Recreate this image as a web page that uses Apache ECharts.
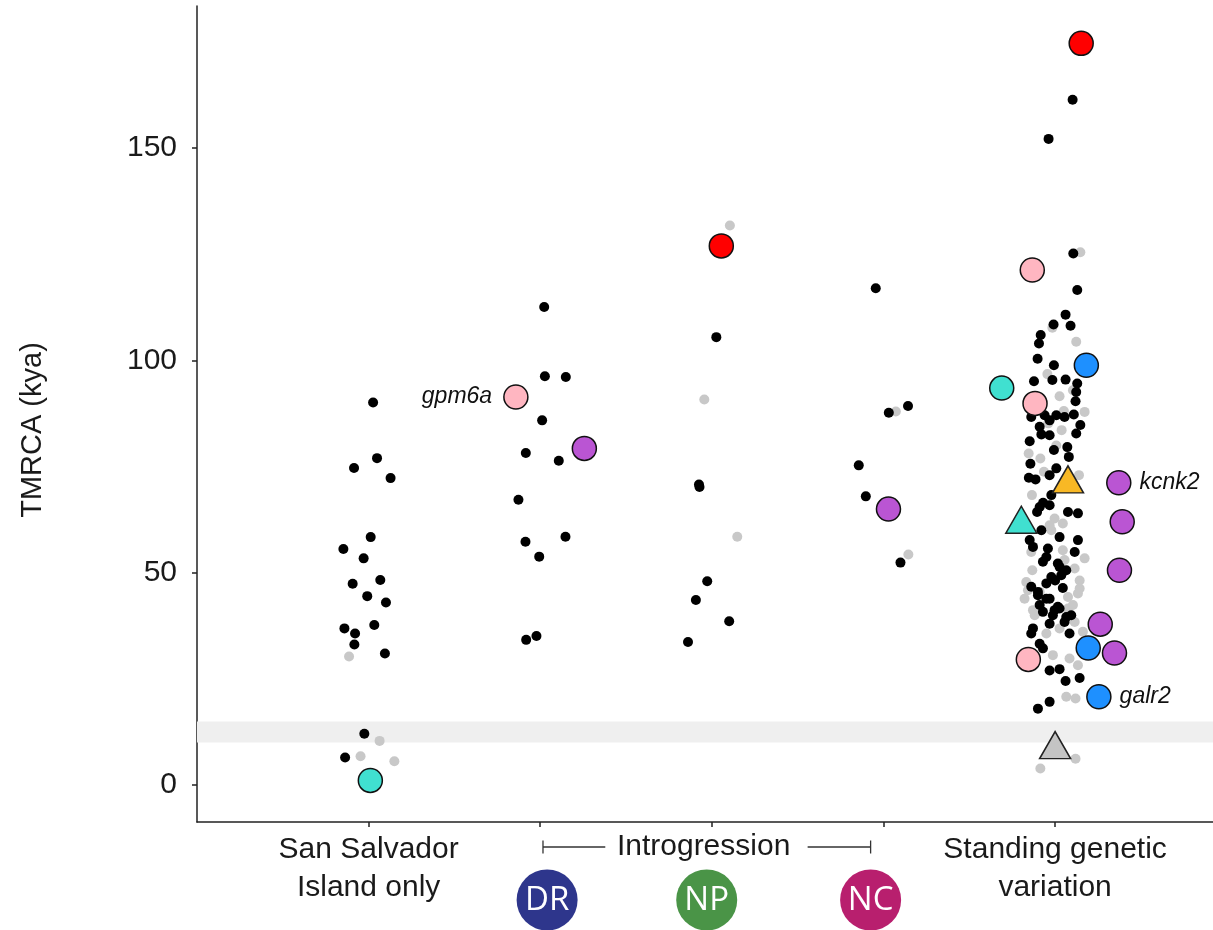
<!DOCTYPE html>
<html><head><meta charset="utf-8">
<script src="https://cdn.jsdelivr.net/npm/echarts@6/dist/echarts.min.js"></script>
<style>html,body{margin:0;padding:0;background:#fff}#c{width:1213px;height:930px}</style>
</head><body><div id="c"></div>
<script>
// ---- data (x = category index + jitter offset, y = TMRCA in kya) ----
const categories = ['San Salvador\nIsland only', 'DR', 'NP', 'NC', 'Standing genetic\nvariation'];
const yTicks = [0, 50, 100, 150];
const xTicks = [1, 2, 3, 4, 5];
const bandRange = [10, 15];

const ssiBlack = [[0.026,90.1],[0.049,77.0],[-0.085,74.7],[0.128,72.3],[0.012,58.4],[-0.147,55.6],[-0.029,53.4],[-0.093,47.4],[0.068,48.3],[-0.008,44.5],[0.101,43.0],[-0.141,36.9],[0.033,37.7],[-0.079,35.7],[-0.083,33.1],[0.095,31.0],[-0.025,12.1],[-0.137,6.5]];
const ssiGray = [[-0.114,30.3],[0.064,10.4],[-0.047,6.8],[0.150,5.6]];

const drBlack = [[0.023,112.6],[0.027,96.3],[0.149,96.1],[0.011,85.9],[-0.084,78.2],[0.108,76.4],[-0.127,67.2],[-0.086,57.3],[0.147,58.5],[-0.006,53.8],[-0.082,34.2],[-0.022,35.1]];
const drGray = [];

const npBlack = [[0.026,105.5],[-0.075,70.8],[-0.072,70.2],[-0.027,48.0],[-0.093,43.6],[0.101,38.6],[-0.139,33.7]];
const npGray = [[0.105,131.8],[-0.044,90.8],[0.148,58.5]];

const ncBlack = [[-0.045,117.0],[0.143,89.3],[0.031,87.7],[-0.144,75.3],[-0.103,68.0],[0.099,52.4]];
const ncGray = [[0.072,88.0],[0.145,54.3]];

const sgvBlack = [[0.102,161.4],[-0.038,152.2],[0.106,125.2],[0.129,116.6],[0.061,110.8],[-0.009,108.5],[0.090,108.2],[-0.084,106.0],[-0.094,104.0],[-0.102,100.4],[-0.007,98.9],[-0.123,95.1],[-0.016,95.4],[0.061,95.5],[0.129,94.6],[0.123,92.6],[0.119,90.4],[0.109,87.3],[-0.139,86.7],[-0.061,87.1],[0.007,87.1],[0.055,86.7],[-0.032,85.9],[0.147,84.8],[-0.090,84.4],[0.123,82.8],[-0.080,82.6],[-0.032,82.4],[-0.148,81.0],[0.071,79.6],[-0.007,78.9],[0.080,77.3],[-0.144,75.7],[0.007,74.6],[-0.153,72.4],[-0.114,72.0],[-0.032,73.0],
  [-0.022,68.3],[-0.090,65.5],[-0.032,65.9],[0.075,64.3],[0.133,64.0],[-0.080,60.0],[0.026,58.4],[0.133,57.7],[-0.148,57.7],[-0.129,56.1],[-0.042,55.7],[0.114,54.9],[-0.051,53.7],[-0.071,52.6],[0.026,51.4],[0.065,50.6],[-0.022,49.0],[0.000,48.2],[-0.139,46.7],[0.045,46.4],[-0.100,44.7],[-0.051,43.9],[-0.090,42.4],[0.016,42.0],[-0.071,40.8],[-0.013,40.0],[0.065,39.6],[0.094,40.0],[-0.032,38.0],[0.055,38.4],[-0.129,36.9],[-0.139,35.7],[0.084,35.7],[-0.090,33.3],[-0.071,32.2],[-0.032,27.0],[0.026,27.3],[0.061,24.5],[0.143,25.2],[-0.032,19.6],[-0.100,18.0],
  [0.016,52.2],[0.036,49.4],[-0.051,47.5],[-0.100,45.5],[-0.032,43.9],[-0.003,41.2],[0.026,41.6],[-0.105,64.3],[-0.070,66.5]];
const sgvGray = [[0.147,125.5],[-0.016,107.7],[0.123,104.4],[-0.045,96.8],[0.104,93.0],[0.026,91.6],[0.172,87.9],[0.051,88.1],[-0.040,85.2],[0.038,83.6],[0.007,80.0],[-0.154,78.1],[-0.086,76.9],[-0.065,73.8],[0.139,73.0],[-0.135,68.3],[-0.003,62.8],[0.045,61.6],[-0.022,60.0],[-0.139,54.9],[0.172,53.4],[0.055,53.0],[-0.133,50.6],[0.114,51.0],[0.143,48.2],[-0.168,47.8],[-0.090,45.5],[-0.178,43.9],[0.133,45.1],[0.075,41.6],[-0.119,40.0],[0.114,38.4],[0.026,36.9],[-0.051,35.7],[0.162,36.1],[-0.013,30.6],[0.084,29.8],[0.133,28.2],[0.065,20.8],[0.119,20.4],[0.119,6.2],[-0.086,3.9],
  [0.045,55.3],[-0.158,45.9],[0.143,46.3],[0.075,44.3],[0.104,42.4],[-0.129,41.2],[-0.032,61.2]];

// highlighted genes: [category index, jitter offset, kya, group, label]
const highlightCircles = [
  [1, 0.010, 1.1, 'turquoise', ''],
  [2, -0.142, 91.4, 'pink', 'gpm6a'],
  [2, 0.257, 79.3, 'purple', ''],
  [3, 0.055, 127.0, 'red', ''],
  [4, 0.029, 65.0, 'purple', ''],
  [5, 0.152, 174.7, 'red', ''],
  [5, -0.133, 121.3, 'pink', ''],
  [5, 0.182, 98.9, 'blue', ''],
  [5, -0.311, 93.5, 'turquoise', ''],
  [5, -0.117, 89.9, 'pink', ''],
  [5, 0.371, 71.2, 'purple', 'kcnk2'],
  [5, 0.391, 62.0, 'purple', ''],
  [5, 0.375, 50.6, 'purple', ''],
  [5, 0.263, 37.9, 'purple', ''],
  [5, 0.193, 32.3, 'blue', ''],
  [5, 0.346, 31.1, 'purple', ''],
  [5, -0.156, 29.6, 'pink', ''],
  [5, 0.255, 20.8, 'blue', 'galr2']
];
const highlightTriangles = [
  [5, 0.075, 72.0, 'orange'],
  [5, -0.197, 62.5, 'turquoise'],
  [5, 0.000, 9.4, 'gray']
];
const introgressionBadges = [['DR', 2.04], ['NP', 2.97], ['NC', 3.925]];

// ---- styles ----
const palette = {turquoise:'#40E0D0', pink:'#FFB6C1', purple:'#BA55D3', red:'#FF0000', blue:'#1E90FF', orange:'#F8B825', gray:'#C4C4C4'};
const badgeColors = {DR:'#2E368C', NP:'#4A9447', NC:'#B81F6E'};
const FONT = '"Liberation Sans", Arial, Helvetica, sans-serif';
const TXT = '#1a1a1a';

function place(cat, arr) { return arr.map(([o, v]) => [cat + o, v]); }
const grayPts = [].concat(place(1, ssiGray), place(2, drGray), place(3, npGray), place(4, ncGray), place(5, sgvGray));
const blackPts = [].concat(place(1, ssiBlack), place(2, drBlack), place(3, npBlack), place(4, ncBlack), place(5, sgvBlack));

const circleData = highlightCircles.map(([c, o, v, g, lab]) => {
  const d = {value: [c + o, v], itemStyle: {color: palette[g]}};
  if (lab) {
    d.label = {show: true, formatter: lab, position: lab === 'gpm6a' ? 'left' : 'right', distance: lab === 'gpm6a' ? 11 : 8,
      fontStyle: 'italic', fontSize: 23, color: '#111', fontFamily: FONT};
  }
  return d;
});
const triData = highlightTriangles.map(([c, o, v, g]) => ({value: [c + o, v], itemStyle: {color: palette[g]}}));

const chart = echarts.init(document.getElementById('c'), null, {renderer: 'canvas'});
const option = {
  animation: false,
  backgroundColor: '#fff',
  grid: {left: 197, right: 0, top: 6, bottom: 108},
  xAxis: {
    type: 'value', min: 0, max: 5.92,
    axisLine: {show: true, onZero: false, lineStyle: {color: '#222', width: 1.5}},
    axisTick: {show: true, length: 5, lineStyle: {color: '#222', width: 1.5}, customValues: xTicks},
    axisLabel: {customValues: [1, 5], formatter: v => categories[Math.round(v) - 1], fontSize: 30, lineHeight: 38, color: TXT, margin: 9, fontFamily: FONT},
    splitLine: {show: false}
  },
  yAxis: {
    type: 'value', min: -8.7, max: 183.5,
    name: 'TMRCA (kya)', nameLocation: 'middle', nameGap: 150, nameRotate: 90,
    nameTextStyle: {fontSize: 29, color: TXT, fontFamily: FONT, padding: [0, 32, 0, 0]},
    axisLine: {show: true, onZero: false, lineStyle: {color: '#222', width: 1.5}},
    axisTick: {show: true, length: 5, lineStyle: {color: '#222', width: 1.5}, customValues: yTicks},
    axisLabel: {customValues: yTicks, fontSize: 30, color: TXT, margin: 20, fontFamily: FONT},
    splitLine: {show: false}
  },
  series: [
    {type: 'scatter', data: grayPts, symbolSize: 10, itemStyle: {color: '#C8C8C8', opacity: 1}, silent: true, z: 2,
     markArea: {silent: true, itemStyle: {color: '#EFEFEF'}, data: [[{yAxis: bandRange[0]}, {yAxis: bandRange[1]}]]}},
    {type: 'scatter', data: blackPts, symbolSize: 10, itemStyle: {color: '#000', opacity: 1}, silent: true, z: 3},
    {type: 'scatter', data: triData, symbol: 'triangle', symbolSize: [31, 27], itemStyle: {borderColor: '#222', borderWidth: 1.5, opacity: 1}, silent: true, z: 4},
    {type: 'scatter', data: circleData, symbolSize: 24, itemStyle: {borderColor: '#111', borderWidth: 1.5, opacity: 1}, silent: true, z: 5}
  ]
};
chart.setOption(option);

// annotations below the x axis, positioned through the axis scale
const px = x => chart.convertToPixel({gridIndex: 0}, [x, 0])[0];
const axisY = chart.convertToPixel({gridIndex: 0}, [0, -8.7])[1];
const brY = axisY + 25, textCx = px(2.952);
const lx0 = px(2.016), lx1 = px(2.379), rx0 = px(3.558), rx1 = px(3.925);
const g = [
  {type: 'line', shape: {x1: lx0, y1: brY, x2: lx1, y2: brY}, style: {stroke: '#333', lineWidth: 1.3}},
  {type: 'line', shape: {x1: lx0, y1: brY - 6.5, x2: lx0, y2: brY + 6.5}, style: {stroke: '#333', lineWidth: 1.3}},
  {type: 'line', shape: {x1: rx0, y1: brY, x2: rx1, y2: brY}, style: {stroke: '#333', lineWidth: 1.3}},
  {type: 'line', shape: {x1: rx1, y1: brY - 6.5, x2: rx1, y2: brY + 6.5}, style: {stroke: '#333', lineWidth: 1.3}},
  {type: 'text', x: textCx, y: brY, style: {text: 'Introgression', fontSize: 30, fontFamily: FONT, fill: TXT, align: 'center', verticalAlign: 'middle'}}
];
introgressionBadges.forEach(([name, xv]) => {
  const cx = px(xv), cy = axisY + 78;
  g.push({type: 'circle', shape: {cx, cy, r: 30.5}, style: {fill: badgeColors[name]}});
  g.push({type: 'text', x: cx, y: cy + 1, style: {text: name, fontSize: 33, fontFamily: '"Open Sans", sans-serif', fill: '#fff', align: 'center', verticalAlign: 'middle', letterSpacing: -1}});
});
chart.setOption({graphic: g});
</script></body></html>
